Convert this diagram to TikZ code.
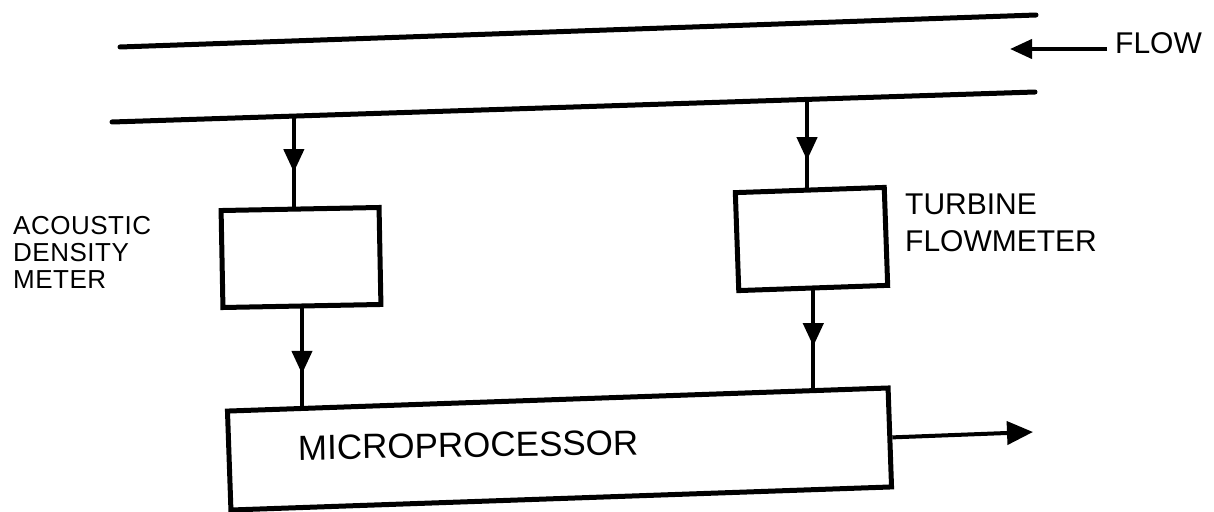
\documentclass[tikz,border=0pt]{standalone}
\usepackage{fontspec}
\setmainfont{Liberation Sans}
\usetikzlibrary{calc,arrows.meta,decorations.markings}
\begin{document}
\begin{tikzpicture}[x=1pt,y=-1pt,
  pipe/.style={line width=5pt, line cap=round},
  blk/.style={draw, line width=5pt, inner sep=0pt, rectangle},
  conn/.style={line width=4pt},
  midarrow/.style={conn, postaction={decorate},
    decoration={markings, mark=at position #1 with {\arrow{Triangle[length=23pt,width=20pt]}}}},
  lbl/.style={inner sep=0pt, align=left, font=\fontsize{26}{27}\selectfont\addfontfeature{LetterSpace=2}},
  lblr/.style={inner sep=0pt, align=left, font=\fontsize{30}{37}\selectfont}]
\useasboundingbox (0,0) rectangle (1214,511);
\fill[white] (0,0) rectangle (1214,511);

% pipe walls
\coordinate (pt1) at (120,47);
\coordinate (pt2) at (1036,15);
\coordinate (pb1) at (112,122);
\coordinate (pb2) at (1035,92);
\draw[pipe] (pt1) -- (pt2);
\draw[pipe] (pb1) -- (pb2);
\coordinate (tapL) at ($(pb1)!0.197!(pb2)$);
\coordinate (tapR) at ($(pb1)!0.753!(pb2)$);

% flow indicator
\node[inner sep=0pt, anchor=base west, font=\fontsize{30}{32}\selectfont] (flow) at (1115,54) {FLOW};
\coordinate (flowend) at (1010,49);
\draw[conn, -{Triangle[length=22pt,width=19pt]}] (flow.west |- flowend) ++(-8,0) -- (flowend);

% blocks
\node[blk, minimum width=158pt, minimum height=97pt, rotate=1.1] (lbox) at (301,257.5) {};
\node[blk, minimum width=149pt, minimum height=98pt, rotate=2] (rbox) at (811.5,239) {};
\node[blk, minimum width=661pt, minimum height=99pt, rotate=2] (micro) at (559.5,449) {};

% labels
\node[lbl, anchor=north west] (adm) at (13,216) {ACOUSTIC\\DENSITY\\METER};
\node[lblr, anchor=north west] (tfm) at (905,194) {TURBINE\\FLOWMETER};
\node[inner sep=0pt, anchor=base west, rotate=0.9, font=\fontsize{35}{40}\selectfont] (mptext) at (298,460) {MICROPROCESSOR};

% connection points on the microprocessor
\coordinate (mL) at ($(micro.north west)!0.107!(micro.north east)$);
\coordinate (mR) at ($(micro.north west)!0.879!(micro.north east)$);
\coordinate (oS) at ($(micro.north east)!0.5!(micro.south east)$);
\coordinate (oE) at (1033,432);

% connectors
\draw[midarrow=0.62] (tapL) -- (tapL |- lbox.north);
\draw[midarrow=0.67] (lbox.south) -- (lbox.south |- mL);
\draw[midarrow=0.69] (tapR) -- (tapR |- rbox.north);
\draw[midarrow=0.57] (rbox.south) -- (rbox.south |- mR);
\draw[conn, -{Triangle[length=26pt,width=23pt]}] (oS) -- (oE);
\end{tikzpicture}
\end{document}
